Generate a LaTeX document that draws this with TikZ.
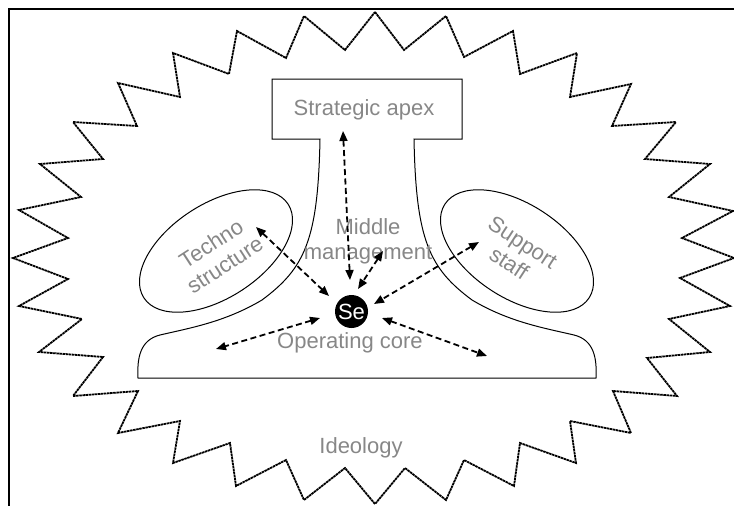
\documentclass[tikz,border=0pt]{standalone}
\usepackage{fontspec}
\setmainfont{Liberation Sans}
\usetikzlibrary{arrows.meta,shapes.geometric}
\definecolor{labelgray}{RGB}{135,135,135}
\begin{document}
\begin{tikzpicture}[x=1pt,y=-1pt,
  lbl/.style={text=labelgray, font=\fontsize{22pt}{25pt}\selectfont, align=center, inner sep=0pt},
  outline/.style={draw=black, line width=1pt},
  starline/.style={draw=black, line width=1.8pt, line join=miter, dash pattern=on 2.5pt off 0.6pt},
  unitoval/.style={draw=black, line width=1pt, ellipse, inner sep=0pt, minimum width=172pt, minimum height=94pt},
  link/.style={line width=1.8pt, dash pattern=on 6pt off 3.5pt, {Triangle[length=10pt,width=8pt]}-{Triangle[length=10pt,width=8pt]}},
]
\useasboundingbox (0,0) rectangle (734,506);
% frame (only left and top edges visible)
\draw[line width=1.5pt] (9,506) -- (9,9) -- (734,9);
% ideology star
\draw[starline] (375,12) -- (404,50) -- (446,16) -- (464,57) -- (513,31) -- (520,74) -- (577,53) -- (570,97)
 -- (631,84) -- (612,126) -- (676,122) -- (645,159) -- (710,164) -- (669,197) -- (733,211) -- (682,238)
 -- (734,258) -- (680,278) -- (730,306) -- (669,319) -- (710,352) -- (647,358) -- (677,396) -- (613,391)
 -- (631,433) -- (570,421) -- (576,463) -- (520,443) -- (514,486) -- (464,460) -- (446,500) -- (405,468)
 -- (375,504) -- (345,468) -- (304,500) -- (286,460) -- (236,486) -- (230,443) -- (173,463) -- (180,421)
 -- (118,433) -- (138,391) -- (73,396) -- (103,357) -- (39,352) -- (82,319) -- (19,306) -- (68,279)
 -- (13,258) -- (68,238) -- (19,210) -- (81,197) -- (40,164) -- (103,159) -- (73,122) -- (137,126)
 -- (118,83) -- (180,97) -- (173,53) -- (229,74) -- (237,31) -- (286,58) -- (304,16) -- (345,50) -- cycle;
% organisation outline
\draw[outline] (320,139) .. controls (318,240) and (305,268) .. (262,300)
  .. controls (225,322) and (190,328) .. (160,335)
  .. controls (140,340) and (137,358) .. (138,378)
  -- (596,378)
  .. controls (597,358) and (594,340) .. (574,335)
  .. controls (544,328) and (509,322) .. (472,300)
  .. controls (429,268) and (416,240) .. (414,139)
  -- (462,139) -- (462,79) -- (272,79) -- (272,139) -- cycle;
% ovals
\node[unitoval, rotate=33] (techno) at (216,251) {};
\node[unitoval, rotate=-33] (support) at (517,251) {};
% labels
\node[lbl] (apex) at (364,110) {Strategic apex};
\node[lbl] (middle) at (368,241) {Middle\\management};
\node[lbl, rotate=33] (technolbl) at (218,254) {Techno\\structure};
\node[lbl, rotate=-33] (supportlbl) at (516,253) {Support\\staff};
\node[lbl] (core) at (350,343) {Operating core};
\node[lbl] (ideology) at (361,448) {Ideology};
\node[circle, fill=black, minimum size=33pt, inner sep=0pt, text=white, font=\fontsize{22pt}{25pt}\selectfont] (se) at (351.5,311.5) {Se};
% connector ends
\coordinate (a1) at (343,131); \coordinate (b1) at (350,280);
\coordinate (a2) at (383,251); \coordinate (b2) at (358,289);
\coordinate (a3) at (256,227); \coordinate (b3) at (329,296);
\coordinate (a4) at (479,242); \coordinate (b4) at (374,304);
\coordinate (a5) at (320,318); \coordinate (b5) at (216,349);
\coordinate (a6) at (382,318); \coordinate (b6) at (487,356);
\draw[link] (a1) -- (b1);
\draw[link] (a2) -- (b2);
\draw[link] (a3) -- (b3);
\draw[link] (a4) -- (b4);
\draw[link] (a5) -- (b5);
\draw[link] (a6) -- (b6);
\end{tikzpicture}
\end{document}
